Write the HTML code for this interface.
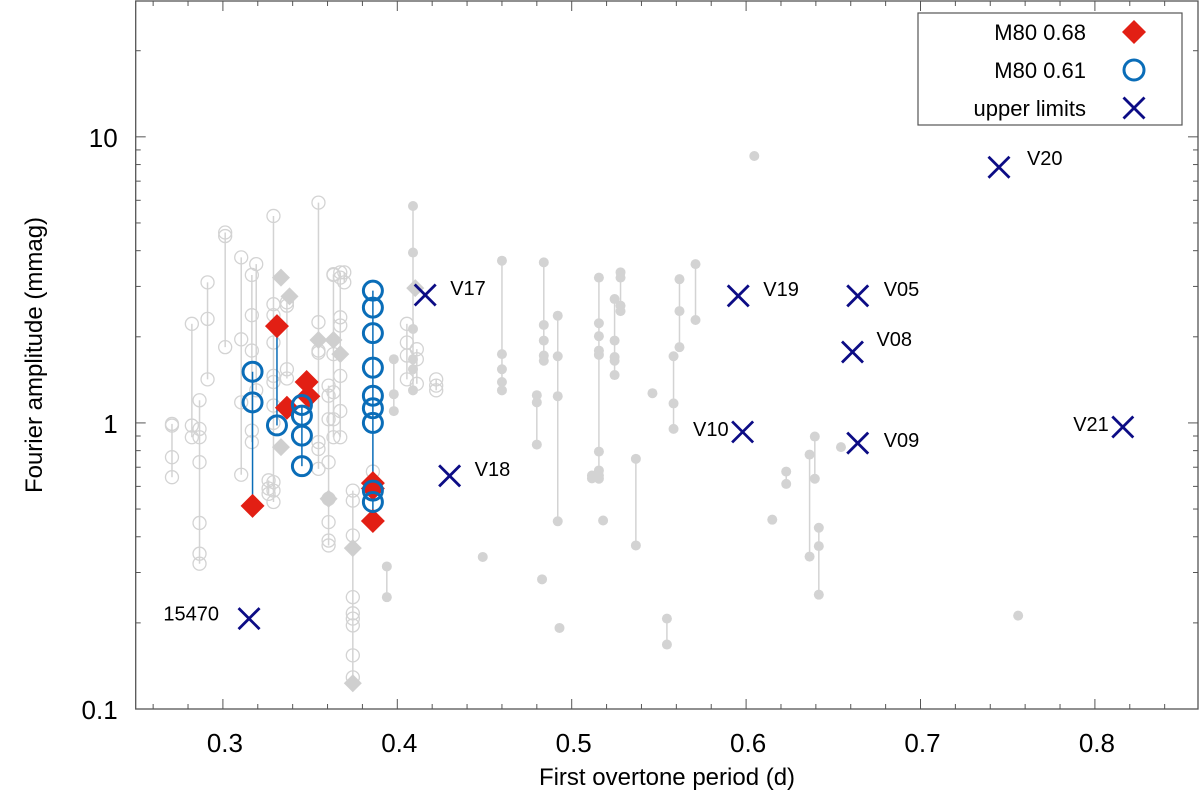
<!DOCTYPE html>
<html><head><meta charset="utf-8"><style>
html,body{margin:0;padding:0;background:#fff;}
svg{display:block;font-family:"Liberation Sans",Arial,sans-serif;}
</style></head><body>
<svg id="chart" width="1200" height="803" viewBox="0 0 1200 803"></svg>
<script>
// ---- data ----
const greyOpenP = [0.2708,0.2822,0.2866,0.2912,0.3013,0.3105,0.3166,0.3191,0.329,0.3262,0.3367,0.3548,0.3606,0.3634,0.3673,0.3696,0.3745,0.4055,0.4112,0.4223,0.386];
const greyOpenA = [[0.992,0.979,0.759,0.646],[2.22,0.979,0.891],[1.20,0.953,0.891,0.729,0.447,0.349,0.322],[3.10,2.31,1.42],[4.63,4.50,1.84],[3.79,1.96,1.18,0.659],[3.29,2.38,1.79,0.94,0.857],[3.59,1.30],[5.29,2.60,2.38,1.91,1.46,1.39,1.15,1.0,0.621,0.58,0.529],[0.63,0.59,0.565],[2.64,2.57,1.54,1.43],[5.89,2.25,1.79,1.76,0.857,0.811,0.691],[1.35,1.245,1.03,0.729,0.543,0.45,0.388,0.373],[3.31,3.29,1.74,1.28,1.03,0.891],[3.36,3.22,2.34,2.19,1.46,1.10,0.891],[3.36,3.10],[0.58,0.535,0.404,0.246,0.216,0.207,0.196,0.154,0.129],[2.22,1.91,1.72,1.42],[1.81,1.67,1.37],[1.42,1.35,1.30],[0.676]];
const greyDiamP = [0.3333,0.3382,0.3548,0.3634,0.3673,0.3333,0.3606,0.3745,0.3745,0.4103];
const greyDiamA = [3.22,2.77,1.95,1.95,1.74,0.823,0.543,0.365,0.123,2.96];
const greyDotP = [0.409,0.398,0.394,0.460,0.449,0.480,0.484,0.483,0.492,0.493,0.5156,0.5116,0.518,0.5246,0.528,0.5368,0.5463,0.5546,0.5584,0.5618,0.571,0.6047,0.615,0.623,0.6364,0.6394,0.6417,0.6544,0.756];
const greyDotA = [[5.73,3.94,2.13,1.67,1.54,1.30],[1.67,1.26,1.10],[0.315,0.246],[3.69,1.74,1.54,1.39,1.30],[0.34],[1.25,1.18,0.84],[3.64,2.20,1.94,1.72,1.65],[0.284],[2.37,1.71,1.24,0.453],[0.192],[3.22,2.23,2.01,1.79,1.73,0.794,0.682,0.655,0.638],[0.655,0.64],[0.456],[2.71,1.94,1.70,1.65,1.47],[3.36,3.22,2.57,2.46],[0.749,0.373],[1.27],[0.207,0.168],[1.71,1.17,0.953],[3.18,2.46,1.84],[3.59,2.29],[8.57],[0.459],[0.676,0.612],[0.775,0.341],[0.896,0.638],[0.430,0.371,0.251],[0.823],[0.212]];
const blueP = [0.317,0.331,0.3453,0.386];
const blueA = [[1.51,1.18],[0.98],[1.155,1.06,0.903,0.706],[2.90,2.53,2.06,1.56,1.245,1.125,1.0,0.58,0.529]];
const redP = [0.317,0.331,0.3367,0.348,0.349,0.386,0.386,0.386];
const redA = [0.513,2.18,1.13,1.39,1.24,0.616,0.59,0.454];
const ulP = [0.315,0.416,0.430,0.5955,0.664,0.661,0.598,0.664,0.745,0.816];
const ulA = [0.207,2.80,0.653,2.78,2.78,1.77,0.93,0.85,7.83,0.968];
const ulLabels = ["15470","V17","V18","V19","V05","V08","V10","V09","V20","V21"];
const xTicks = [0.3,0.4,0.5,0.6,0.7,0.8];
const xTickLabels = ["0.3","0.4","0.5","0.6","0.7","0.8"];
const yTicks = [0.1,1,10];
const yTickLabels = ["0.1","1","10"];
// label placement (style, not data)
const labelOff = [[-30,-6,"end"],[25,-8,"start"],[25,-8,"start"],[25,-8,"start"],[26,-8,"start"],[24,-14,"start"],[-14,-4,"end"],[26,-4,"start"],[28,-10,"start"],[-14,-4,"end"]];

// ---- axes ----
const L=135.7, R=1198, T=1, B=709;
const xMin=0.25, xMax=0.25+(1198-135.7)/1744, yMinL=-1, yMaxL=1.4748;
const X=p=>L+(p-xMin)/(xMax-xMin)*(R-L);
const Y=a=>B-(Math.log10(a)-yMinL)/(yMaxL-yMinL)*(B-T);
const svg=document.getElementById('chart');
const NS='http://www.w3.org/2000/svg';
function mk(tag,attrs,parent){const e=document.createElementNS(NS,tag);for(const k in attrs)e.setAttribute(k,attrs[k]);(parent||svg).appendChild(e);return e;}

const gGrid=mk('g',{});


for(let v=0.26;v<0.859;v+=0.02){
  const vv=Math.round(v*100)/100;const maj=Math.abs(vv*10-Math.round(vv*10))<1e-6;
  const x=X(vv);const len=maj?10:5;
  mk('line',{x1:x,x2:x,y1:B,y2:B-len,stroke:'#555','stroke-width':1},gGrid);
  mk('line',{x1:x,x2:x,y1:T,y2:T+len,stroke:'#555','stroke-width':1},gGrid);
}
xTicks.forEach((v,i)=>{const t=mk('text',{x:X(v)+2,y:B+43,'text-anchor':'middle','font-size':26,fill:'#000'},gGrid);t.textContent=xTickLabels[i];

});
for(let d=-1;d<=1;d++){for(let m=1;m<=9;m++){const a=m*Math.pow(10,d);if(Math.log10(a)>yMaxL)break;const y=Y(a);const len=m===1?10:5;
  mk('line',{x1:L,x2:L+len,y1:y,y2:y,stroke:'#555','stroke-width':1},gGrid);
  mk('line',{x1:R,x2:R-len,y1:y,y2:y,stroke:'#555','stroke-width':1},gGrid);}}
yTicks.forEach((v,i)=>{const t=mk('text',{x:L-18,y:Y(v)+10,'text-anchor':'end','font-size':26,fill:'#000'},gGrid);t.textContent=yTickLabels[i];

});
const frame=mk('rect',{x:L,y:T,width:R-L,height:B-T,fill:'none',stroke:'#555','stroke-width':1.3});


const xt=mk('text',{x:667,y:785,'text-anchor':'middle','font-size':24,fill:'#000'});xt.textContent='First overtone period (d)';


const yt=mk('text',{x:0,y:0,'text-anchor':'middle','font-size':24,fill:'#000',transform:'translate(42,355) rotate(-90)'});yt.textContent='Fourier amplitude (mmag)';



const grey='#d3d3d3';
function diamond(cx,cy,r,fill,parent){return mk('polygon',{points:`${cx},${cy-r} ${cx+r},${cy} ${cx},${cy+r} ${cx-r},${cy}`,fill:fill},parent);}
const gO=mk('g',{});


greyOpenP.forEach((p,i)=>{const a=greyOpenA[i];const x=X(p);
  if(a.length>1)mk('line',{x1:x,x2:x,y1:Y(Math.max(...a)),y2:Y(Math.min(...a)),stroke:grey,'stroke-width':1.5},gO);
  a.forEach(v=>{const c=mk('circle',{cx:x,cy:Y(v),r:6.5,fill:'none',stroke:grey,'stroke-width':1.3},gO);
  
  });});
const gD=mk('g',{});


greyDotP.forEach((p,i)=>{const a=greyDotA[i];const x=X(p);
  if(a.length>1)mk('line',{x1:x,x2:x,y1:Y(Math.max(...a)),y2:Y(Math.min(...a)),stroke:grey,'stroke-width':1.5},gD);
  a.forEach(v=>{const c=mk('circle',{cx:x,cy:Y(v),r:5,fill:grey},gD);
  
  });});
greyDiamP.forEach((p,i)=>{const d=diamond(X(p),Y(greyDiamA[i]),9,'#cfcfcf');
  
  });
const blue='#0a6db8', red='#e21f14', navy='#0c0c85';
blueP.forEach((p,i)=>{const vals=blueA[i].concat(redA.filter((v,j)=>redP[j]===p));const x=X(p);
  const l=mk('line',{x1:x,x2:x,y1:Y(Math.max(...vals)),y2:Y(Math.min(...vals)),stroke:blue,'stroke-width':1.5});
  
  });
redP.forEach((p,i)=>{const d=diamond(X(p),Y(redA[i]),12,red);
  
  });
blueP.forEach((p,i)=>{blueA[i].forEach(v=>{const c=mk('circle',{cx:X(p),cy:Y(v),r:9.5,fill:'none',stroke:blue,'stroke-width':3});
  
  });});
function cross(cx,cy,h,parent){const g=mk('g',{},parent);mk('line',{x1:cx-h,y1:cy-h,x2:cx+h,y2:cy+h,stroke:navy,'stroke-width':2.8},g);mk('line',{x1:cx-h,y1:cy+h,x2:cx+h,y2:cy-h,stroke:navy,'stroke-width':2.8},g);return g;}
ulP.forEach((p,i)=>{const x=X(p),y=Y(ulA[i]);const g=cross(x,y,10.5);
  
  
  const o=labelOff[i];const t=mk('text',{x:x+o[0],y:y+o[1]+8,'text-anchor':o[2],'font-size':20,fill:'#000'});t.textContent=ulLabels[i];
  
  });
const lg=mk('g',{});


mk('rect',{x:918,y:13,width:264,height:112,fill:'#fff',stroke:'#555','stroke-width':1.2},lg);
const legTxt=['M80 0.68','M80 0.61','upper limits'];
legTxt.forEach((s,i)=>{const y=32+i*38;const t=mk('text',{x:1086,y:y+8,'text-anchor':'end','font-size':22,fill:'#000'},lg);t.textContent=s;
  
  });
diamond(1134,32,12,red,lg);
mk('circle',{cx:1134,cy:70,r:10,fill:'none',stroke:blue,'stroke-width':3},lg);
cross(1134,108,10.5,lg);
</script>
</body></html>
